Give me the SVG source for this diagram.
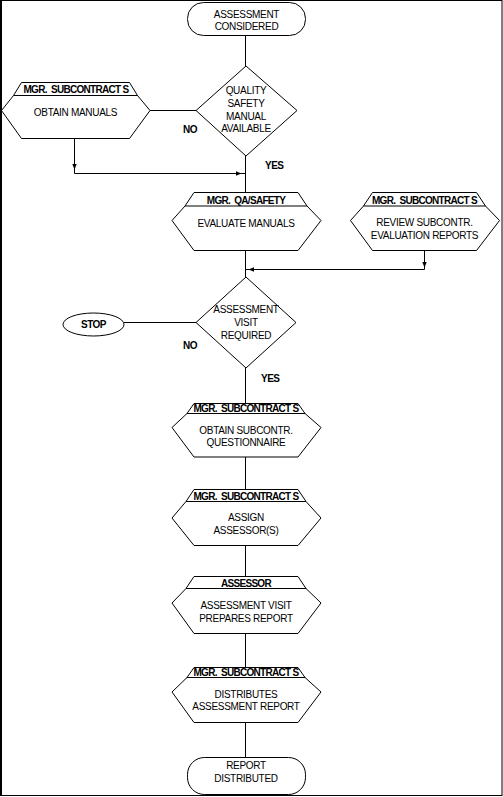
<svg xmlns="http://www.w3.org/2000/svg" width="503" height="797" viewBox="0 0 503 797">
<style>
.s{fill:#fff;stroke:#000;stroke-width:1}
.l{fill:none;stroke:#000;stroke-width:1}
.t{font-family:"Liberation Sans",Arial,sans-serif;font-size:10px;letter-spacing:-0.3px;fill:#000;text-anchor:middle}
.h{font-family:"Liberation Sans",Arial,sans-serif;font-size:10px;font-weight:bold;letter-spacing:-0.7px;fill:#000;text-anchor:middle;white-space:pre}
.b{font-family:"Liberation Sans",Arial,sans-serif;font-size:10px;font-weight:bold;letter-spacing:-0.5px;fill:#000}
</style>
<defs>
<path id="ah" d="M-5,-2.2 L0.5,0 L-5,2.2 Z" fill="#000"/>
</defs>
<rect x="0.5" y="0.5" width="501.5" height="795" fill="#fff" stroke="#000" stroke-width="1"/>
<line x1="1.5" y1="0.5" x2="1.5" y2="795.5" stroke="#000" stroke-width="1"/>

<g id="connectors">
<path class="l" d="M245.5,35 V66"/>
<path class="l" d="M150,110.5 H196"/>
<path class="l" d="M74.5,138 V173.5 H245.5"/>
<use href="#ah" transform="translate(74.5,169) rotate(90)"/>
<use href="#ah" transform="translate(241,173.5)"/>
<path class="l" d="M245.5,156 V192"/>
<path class="l" d="M245.5,250 V277"/>
<path class="l" d="M424.5,250 V269.5 H245.5"/>
<use href="#ah" transform="translate(424.5,267) rotate(90)"/>
<use href="#ah" transform="translate(249,269.5) rotate(180)"/>
<path class="l" d="M124,322.5 H196"/>
<path class="l" d="M245.5,368 V403"/>
<path class="l" d="M245.5,457 V489"/>
<path class="l" d="M245.5,545 V576"/>
<path class="l" d="M245.5,633 V667"/>
<path class="l" d="M245.5,722 V757"/>
<text class="b" x="183" y="133">NO</text>
<text class="b" x="265" y="169">YES</text>
<text class="b" x="183" y="349">NO</text>
<text class="b" x="261" y="382">YES</text>
</g>

<g id="start">
<rect class="s" x="187.5" y="2.5" width="118" height="33" rx="16"/>
<text class="t" x="246.5" y="17.5">ASSESSMENT</text>
<text class="t" x="246.5" y="30">CONSIDERED</text>
</g>

<g id="dec1">
<polygon class="s" points="246,66 297,110.5 246,156 196,110.5"/>
<text class="t" x="246" y="94">QUALITY</text>
<text class="t" x="246" y="107">SAFETY</text>
<text class="t" x="246" y="119.5">MANUAL</text>
<text class="t" x="246" y="132">AVAILABLE</text>
</g>

<g id="obtainManuals">
<polygon class="s" points="21.5,82.5 129.5,82.5 137.5,95.5 150,110.5 129.5,138.5 21.5,138.5 1.5,110.5 13.5,95.5"/>
<line class="l" x1="13.5" y1="95.5" x2="137.5" y2="95.5"/>
<text class="h" x="76" y="93" xml:space="preserve">MGR.  SUBCONTRACT S</text>
<text class="t" x="75.5" y="116">OBTAIN MANUALS</text>
</g>

<g id="evaluate">
<polygon class="s" points="194,192.5 298,192.5 307,206 321,220.5 298,250.5 194,250.5 172,220.5 185,206"/>
<line class="l" x1="185" y1="206" x2="307" y2="206"/>
<text class="h" x="246" y="204" xml:space="preserve">MGR.  QA/SAFETY</text>
<text class="t" x="246" y="227">EVALUATE MANUALS</text>
</g>

<g id="review">
<polygon class="s" points="372.5,192.5 476.5,192.5 485.5,206 499.5,220.5 476.5,250.5 372.5,250.5 350.5,220.5 363.5,206"/>
<line class="l" x1="363.5" y1="206" x2="485.5" y2="206"/>
<text class="h" x="424.5" y="204" xml:space="preserve">MGR.  SUBCONTRACT S</text>
<text class="t" x="424.5" y="226">REVIEW SUBCONTR.</text>
<text class="t" x="424.5" y="239">EVALUATION REPORTS</text>
</g>

<g id="dec2">
<polygon class="s" points="246,277 296,322.5 246,368 196,322.5"/>
<text class="t" x="246" y="313">ASSESSMENT</text>
<text class="t" x="246" y="326">VISIT</text>
<text class="t" x="246" y="339">REQUIRED</text>
</g>

<g id="stop">
<ellipse class="s" cx="93.5" cy="324.5" rx="30.5" ry="11.5"/>
<text class="b" x="93.5" y="328" text-anchor="middle">STOP</text>
</g>

<g id="questionnaire">
<polygon class="s" points="194,403.5 298,403.5 305,413.5 321,427.5 298,457 194,457 172,427.5 187,413.5"/>
<line class="l" x1="187" y1="413.5" x2="305" y2="413.5"/>
<text class="h" x="246" y="412" xml:space="preserve">MGR.  SUBCONTRACT S</text>
<text class="t" x="246" y="434">OBTAIN SUBCONTR.</text>
<text class="t" x="246" y="446">QUESTIONNAIRE</text>
</g>

<g id="assign">
<polygon class="s" points="194,489.5 298,489.5 306,501.5 321,518 298,545.5 194,545.5 172,518 186,501.5"/>
<line class="l" x1="186" y1="501.5" x2="306" y2="501.5"/>
<text class="h" x="246" y="499.5" xml:space="preserve">MGR.  SUBCONTRACT S</text>
<text class="t" x="246" y="521">ASSIGN</text>
<text class="t" x="246" y="533.5">ASSESSOR(S)</text>
</g>

<g id="visit">
<polygon class="s" points="194,576.5 298,576.5 306,588.5 321,603 298,633.5 194,633.5 172,603 186,588.5"/>
<line class="l" x1="186" y1="588.5" x2="306" y2="588.5"/>
<text class="h" x="246" y="586.5">ASSESSOR</text>
<text class="t" x="246" y="608.5">ASSESSMENT VISIT</text>
<text class="t" x="246" y="622">PREPARES REPORT</text>
</g>

<g id="distributes">
<polygon class="s" points="194,667.5 298,667.5 305,677.5 321,692 298,722.5 194,722.5 172,692 187,677.5"/>
<line class="l" x1="187" y1="677.5" x2="305" y2="677.5"/>
<text class="h" x="246" y="675.5" xml:space="preserve">MGR.  SUBCONTRACT S</text>
<text class="t" x="246" y="697.5">DISTRIBUTES</text>
<text class="t" x="246" y="710">ASSESSMENT REPORT</text>
</g>

<g id="end">
<rect class="s" x="187.5" y="757.5" width="118" height="37" rx="17"/>
<text class="t" x="246" y="768.5">REPORT</text>
<text class="t" x="246" y="782">DISTRIBUTED</text>
</g>
</svg>
